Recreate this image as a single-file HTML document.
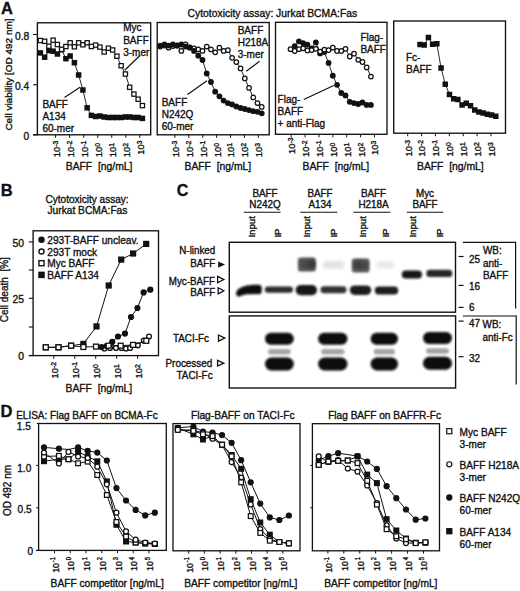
<!DOCTYPE html>
<html><head><meta charset="utf-8"><style>
html,body{margin:0;padding:0;background:#fff;}
body{width:520px;height:591px;overflow:hidden;}
svg{display:block;}
text{font-family:"Liberation Sans",sans-serif;fill:#111;stroke:#111;stroke-width:0.34px;}
</style></head><body>
<svg width="520" height="591" viewBox="0 0 520 591">
<defs><filter id="b5" x="-30%" y="-60%" width="160%" height="220%"><feGaussianBlur stdDeviation="0.5"/></filter><filter id="b6" x="-30%" y="-60%" width="160%" height="220%"><feGaussianBlur stdDeviation="0.6"/></filter><filter id="b7" x="-30%" y="-60%" width="160%" height="220%"><feGaussianBlur stdDeviation="0.7"/></filter><filter id="b8" x="-30%" y="-60%" width="160%" height="220%"><feGaussianBlur stdDeviation="0.8"/></filter><filter id="b9" x="-30%" y="-60%" width="160%" height="220%"><feGaussianBlur stdDeviation="0.9"/></filter><filter id="b10" x="-30%" y="-60%" width="160%" height="220%"><feGaussianBlur stdDeviation="1.0"/></filter><filter id="b11" x="-30%" y="-60%" width="160%" height="220%"><feGaussianBlur stdDeviation="1.1"/></filter><filter id="b12" x="-30%" y="-60%" width="160%" height="220%"><feGaussianBlur stdDeviation="1.2"/></filter><filter id="b13" x="-30%" y="-60%" width="160%" height="220%"><feGaussianBlur stdDeviation="1.3"/></filter><filter id="b14" x="-30%" y="-60%" width="160%" height="220%"><feGaussianBlur stdDeviation="1.4"/></filter><filter id="b15" x="-30%" y="-60%" width="160%" height="220%"><feGaussianBlur stdDeviation="1.5"/></filter><filter id="b16" x="-30%" y="-60%" width="160%" height="220%"><feGaussianBlur stdDeviation="1.6"/></filter><filter id="b17" x="-30%" y="-60%" width="160%" height="220%"><feGaussianBlur stdDeviation="1.7"/></filter><filter id="b18" x="-30%" y="-60%" width="160%" height="220%"><feGaussianBlur stdDeviation="1.8"/></filter><filter id="b19" x="-30%" y="-60%" width="160%" height="220%"><feGaussianBlur stdDeviation="1.9"/></filter><filter id="b20" x="-30%" y="-60%" width="160%" height="220%"><feGaussianBlur stdDeviation="2.0"/></filter></defs>
<rect width="520" height="591" fill="#fff"/>
<text transform="translate(1.00,13.90) scale(1,1.03)" font-size="16.5" text-anchor="start" font-weight="bold" >A</text>
<text transform="translate(187.60,16.60) scale(1,1.0)" font-size="10.35" text-anchor="start" font-weight="normal" >Cytotoxicity assay: Jurkat BCMA:Fas</text>
<rect x="37.40" y="22.80" width="113.30" height="112.00" fill="none" stroke="#111" stroke-width="1.35"/>
<rect x="157.20" y="22.50" width="112.00" height="112.30" fill="none" stroke="#111" stroke-width="1.35"/>
<rect x="275.50" y="22.30" width="111.50" height="112.00" fill="none" stroke="#111" stroke-width="1.35"/>
<rect x="393.70" y="21.00" width="111.80" height="112.20" fill="none" stroke="#111" stroke-width="1.35"/>
<line x1="33.10" y1="134.80" x2="37.40" y2="134.80" stroke="#111" stroke-width="1.35"/>
<line x1="33.10" y1="34.50" x2="37.40" y2="34.50" stroke="#111" stroke-width="1.1"/>
<text transform="translate(29.30,39.50) scale(1,1.0)" font-size="10.3" text-anchor="end" font-weight="normal" >0.8</text>
<line x1="33.10" y1="84.70" x2="37.40" y2="84.70" stroke="#111" stroke-width="1.1"/>
<text transform="translate(29.30,89.70) scale(1,1.0)" font-size="10.3" text-anchor="end" font-weight="normal" >0.4</text>
<line x1="33.10" y1="134.80" x2="37.40" y2="134.80" stroke="#111" stroke-width="1.1"/>
<text transform="translate(29.30,139.80) scale(1,1.0)" font-size="10.3" text-anchor="end" font-weight="normal" >0</text>
<text transform="translate(11.90,130.60) rotate(-90) scale(1.052,1)" font-size="9.5" text-anchor="start">Cell viability [OD 492 nm]</text>
<line x1="55.60" y1="134.80" x2="55.60" y2="137.80" stroke="#111" stroke-width="1.0"/>
<text transform="translate(59.50,157.30) rotate(-90) scale(1.02,1)" font-size="9.2">10<tspan font-size="6.7" dy="-2.0">-3</tspan></text>
<line x1="69.64" y1="134.80" x2="69.64" y2="137.80" stroke="#111" stroke-width="1.0"/>
<text transform="translate(73.54,157.30) rotate(-90) scale(1.02,1)" font-size="9.2">10<tspan font-size="6.7" dy="-2.0">-2</tspan></text>
<line x1="83.68" y1="134.80" x2="83.68" y2="137.80" stroke="#111" stroke-width="1.0"/>
<text transform="translate(87.58,157.30) rotate(-90) scale(1.02,1)" font-size="9.2">10<tspan font-size="6.7" dy="-2.0">-1</tspan></text>
<line x1="97.72" y1="134.80" x2="97.72" y2="137.80" stroke="#111" stroke-width="1.0"/>
<text transform="translate(101.62,157.30) rotate(-90) scale(1.02,1)" font-size="9.2">10<tspan font-size="6.7" dy="-2.0">0</tspan></text>
<line x1="111.76" y1="134.80" x2="111.76" y2="137.80" stroke="#111" stroke-width="1.0"/>
<text transform="translate(115.66,157.30) rotate(-90) scale(1.02,1)" font-size="9.2">10<tspan font-size="6.7" dy="-2.0">1</tspan></text>
<line x1="125.80" y1="134.80" x2="125.80" y2="137.80" stroke="#111" stroke-width="1.0"/>
<text transform="translate(129.70,157.30) rotate(-90) scale(1.02,1)" font-size="9.2">10<tspan font-size="6.7" dy="-2.0">2</tspan></text>
<line x1="139.84" y1="134.80" x2="139.84" y2="137.80" stroke="#111" stroke-width="1.0"/>
<text transform="translate(143.74,154.80) rotate(-90) scale(1.02,1)" font-size="9.2">10<tspan font-size="6.7" dy="-2.0">3</tspan></text>
<line x1="174.90" y1="134.80" x2="174.90" y2="137.80" stroke="#111" stroke-width="1.0"/>
<text transform="translate(178.80,157.30) rotate(-90) scale(1.02,1)" font-size="9.2">10<tspan font-size="6.7" dy="-2.0">-3</tspan></text>
<line x1="188.80" y1="134.80" x2="188.80" y2="137.80" stroke="#111" stroke-width="1.0"/>
<text transform="translate(192.70,157.30) rotate(-90) scale(1.02,1)" font-size="9.2">10<tspan font-size="6.7" dy="-2.0">-2</tspan></text>
<line x1="202.70" y1="134.80" x2="202.70" y2="137.80" stroke="#111" stroke-width="1.0"/>
<text transform="translate(206.60,157.30) rotate(-90) scale(1.02,1)" font-size="9.2">10<tspan font-size="6.7" dy="-2.0">-1</tspan></text>
<line x1="216.60" y1="134.80" x2="216.60" y2="137.80" stroke="#111" stroke-width="1.0"/>
<text transform="translate(220.50,157.30) rotate(-90) scale(1.02,1)" font-size="9.2">10<tspan font-size="6.7" dy="-2.0">0</tspan></text>
<line x1="230.50" y1="134.80" x2="230.50" y2="137.80" stroke="#111" stroke-width="1.0"/>
<text transform="translate(234.40,157.30) rotate(-90) scale(1.02,1)" font-size="9.2">10<tspan font-size="6.7" dy="-2.0">1</tspan></text>
<line x1="244.40" y1="134.80" x2="244.40" y2="137.80" stroke="#111" stroke-width="1.0"/>
<text transform="translate(248.30,157.30) rotate(-90) scale(1.02,1)" font-size="9.2">10<tspan font-size="6.7" dy="-2.0">2</tspan></text>
<line x1="258.30" y1="134.80" x2="258.30" y2="137.80" stroke="#111" stroke-width="1.0"/>
<text transform="translate(262.20,157.30) rotate(-90) scale(1.02,1)" font-size="9.2">10<tspan font-size="6.7" dy="-2.0">3</tspan></text>
<line x1="291.20" y1="134.30" x2="291.20" y2="137.30" stroke="#111" stroke-width="1.0"/>
<text transform="translate(295.10,154.05) rotate(-90) scale(1.02,1)" font-size="9.2">10<tspan font-size="6.7" dy="-2.0">-3</tspan></text>
<line x1="305.08" y1="134.30" x2="305.08" y2="137.30" stroke="#111" stroke-width="1.0"/>
<text transform="translate(308.98,157.05) rotate(-90) scale(1.02,1)" font-size="9.2">10<tspan font-size="6.7" dy="-2.0">-2</tspan></text>
<line x1="318.96" y1="134.30" x2="318.96" y2="137.30" stroke="#111" stroke-width="1.0"/>
<text transform="translate(322.86,157.05) rotate(-90) scale(1.02,1)" font-size="9.2">10<tspan font-size="6.7" dy="-2.0">-1</tspan></text>
<line x1="332.84" y1="134.30" x2="332.84" y2="137.30" stroke="#111" stroke-width="1.0"/>
<text transform="translate(336.74,157.05) rotate(-90) scale(1.02,1)" font-size="9.2">10<tspan font-size="6.7" dy="-2.0">0</tspan></text>
<line x1="346.72" y1="134.30" x2="346.72" y2="137.30" stroke="#111" stroke-width="1.0"/>
<text transform="translate(350.62,157.05) rotate(-90) scale(1.02,1)" font-size="9.2">10<tspan font-size="6.7" dy="-2.0">1</tspan></text>
<line x1="360.60" y1="134.30" x2="360.60" y2="137.30" stroke="#111" stroke-width="1.0"/>
<text transform="translate(364.50,157.05) rotate(-90) scale(1.02,1)" font-size="9.2">10<tspan font-size="6.7" dy="-2.0">2</tspan></text>
<line x1="374.48" y1="134.30" x2="374.48" y2="137.30" stroke="#111" stroke-width="1.0"/>
<text transform="translate(378.38,155.05) rotate(-90) scale(1.02,1)" font-size="9.2">10<tspan font-size="6.7" dy="-2.0">3</tspan></text>
<line x1="407.70" y1="133.20" x2="407.70" y2="136.20" stroke="#111" stroke-width="1.0"/>
<text transform="translate(411.60,156.50) rotate(-90) scale(1.02,1)" font-size="9.2">10<tspan font-size="6.7" dy="-2.0">-3</tspan></text>
<line x1="421.58" y1="133.20" x2="421.58" y2="136.20" stroke="#111" stroke-width="1.0"/>
<text transform="translate(425.48,156.50) rotate(-90) scale(1.02,1)" font-size="9.2">10<tspan font-size="6.7" dy="-2.0">-2</tspan></text>
<line x1="435.46" y1="133.20" x2="435.46" y2="136.20" stroke="#111" stroke-width="1.0"/>
<text transform="translate(439.36,156.50) rotate(-90) scale(1.02,1)" font-size="9.2">10<tspan font-size="6.7" dy="-2.0">-1</tspan></text>
<line x1="449.34" y1="133.20" x2="449.34" y2="136.20" stroke="#111" stroke-width="1.0"/>
<text transform="translate(453.24,156.50) rotate(-90) scale(1.02,1)" font-size="9.2">10<tspan font-size="6.7" dy="-2.0">0</tspan></text>
<line x1="463.22" y1="133.20" x2="463.22" y2="136.20" stroke="#111" stroke-width="1.0"/>
<text transform="translate(467.12,156.50) rotate(-90) scale(1.02,1)" font-size="9.2">10<tspan font-size="6.7" dy="-2.0">1</tspan></text>
<line x1="477.10" y1="133.20" x2="477.10" y2="136.20" stroke="#111" stroke-width="1.0"/>
<text transform="translate(481.00,156.50) rotate(-90) scale(1.02,1)" font-size="9.2">10<tspan font-size="6.7" dy="-2.0">2</tspan></text>
<line x1="490.98" y1="133.20" x2="490.98" y2="136.20" stroke="#111" stroke-width="1.0"/>
<text transform="translate(494.88,156.50) rotate(-90) scale(1.02,1)" font-size="9.2">10<tspan font-size="6.7" dy="-2.0">3</tspan></text>
<text transform="translate(65.75,170.20) scale(1,1.04)" font-size="10.35" text-anchor="start" font-weight="normal" >BAFF&#160;&#160;[ng/mL]</text>
<text transform="translate(184.50,170.20) scale(1,1.04)" font-size="10.35" text-anchor="start" font-weight="normal" >BAFF&#160;&#160;[ng/mL]</text>
<text transform="translate(302.50,170.20) scale(1,1.04)" font-size="10.35" text-anchor="start" font-weight="normal" >BAFF&#160;&#160;[ng/mL]</text>
<text transform="translate(417.00,170.20) scale(1,1.04)" font-size="10.35" text-anchor="start" font-weight="normal" >BAFF&#160;&#160;[ng/mL]</text>
<polyline points="40.40,52.90 44.65,57.20 48.90,50.60 53.15,51.20 57.40,54.00 61.65,49.60 65.90,58.70 70.15,56.00 74.40,62.70 78.65,75.00 82.90,90.00 87.15,107.80 91.40,115.40 95.65,116.50 99.90,116.00 104.15,117.00 108.40,117.50 112.65,117.50 116.90,117.50 121.15,117.50 125.40,117.00 129.65,117.00 133.90,117.50 138.15,117.50 142.40,118.40" fill="none" stroke="#111" stroke-width="0.9"/>
<rect x="37.65" y="50.15" width="5.50" height="5.50" fill="#111"/>
<rect x="41.90" y="54.45" width="5.50" height="5.50" fill="#111"/>
<rect x="46.15" y="47.85" width="5.50" height="5.50" fill="#111"/>
<rect x="50.40" y="48.45" width="5.50" height="5.50" fill="#111"/>
<rect x="54.65" y="51.25" width="5.50" height="5.50" fill="#111"/>
<rect x="58.90" y="46.85" width="5.50" height="5.50" fill="#111"/>
<rect x="63.15" y="55.95" width="5.50" height="5.50" fill="#111"/>
<rect x="67.40" y="53.25" width="5.50" height="5.50" fill="#111"/>
<rect x="71.65" y="59.95" width="5.50" height="5.50" fill="#111"/>
<rect x="75.90" y="72.25" width="5.50" height="5.50" fill="#111"/>
<rect x="80.15" y="87.25" width="5.50" height="5.50" fill="#111"/>
<rect x="84.40" y="105.05" width="5.50" height="5.50" fill="#111"/>
<rect x="88.65" y="112.65" width="5.50" height="5.50" fill="#111"/>
<rect x="92.90" y="113.75" width="5.50" height="5.50" fill="#111"/>
<rect x="97.15" y="113.25" width="5.50" height="5.50" fill="#111"/>
<rect x="101.40" y="114.25" width="5.50" height="5.50" fill="#111"/>
<rect x="105.65" y="114.75" width="5.50" height="5.50" fill="#111"/>
<rect x="109.90" y="114.75" width="5.50" height="5.50" fill="#111"/>
<rect x="114.15" y="114.75" width="5.50" height="5.50" fill="#111"/>
<rect x="118.40" y="114.75" width="5.50" height="5.50" fill="#111"/>
<rect x="122.65" y="114.25" width="5.50" height="5.50" fill="#111"/>
<rect x="126.90" y="114.25" width="5.50" height="5.50" fill="#111"/>
<rect x="131.15" y="114.75" width="5.50" height="5.50" fill="#111"/>
<rect x="135.40" y="114.75" width="5.50" height="5.50" fill="#111"/>
<rect x="139.65" y="115.65" width="5.50" height="5.50" fill="#111"/>
<polyline points="40.40,40.50 44.65,41.30 48.90,46.20 53.15,40.20 57.40,44.50 61.65,49.40 65.90,46.50 70.15,42.80 74.40,46.80 78.65,42.80 82.90,44.80 87.15,42.80 91.40,46.50 95.65,45.10 99.90,47.10 104.15,52.00 108.40,48.20 112.65,50.00 116.90,56.20 121.15,65.70 125.40,74.00 129.65,87.30 133.90,94.10 138.15,99.20 142.40,105.60" fill="none" stroke="#111" stroke-width="0.9"/>
<rect x="38.27" y="38.38" width="4.25" height="4.25" fill="#fff" stroke="#111" stroke-width="1.25"/>
<rect x="42.52" y="39.17" width="4.25" height="4.25" fill="#fff" stroke="#111" stroke-width="1.25"/>
<rect x="46.77" y="44.08" width="4.25" height="4.25" fill="#fff" stroke="#111" stroke-width="1.25"/>
<rect x="51.02" y="38.08" width="4.25" height="4.25" fill="#fff" stroke="#111" stroke-width="1.25"/>
<rect x="55.27" y="42.38" width="4.25" height="4.25" fill="#fff" stroke="#111" stroke-width="1.25"/>
<rect x="59.52" y="47.27" width="4.25" height="4.25" fill="#fff" stroke="#111" stroke-width="1.25"/>
<rect x="63.78" y="44.38" width="4.25" height="4.25" fill="#fff" stroke="#111" stroke-width="1.25"/>
<rect x="68.03" y="40.67" width="4.25" height="4.25" fill="#fff" stroke="#111" stroke-width="1.25"/>
<rect x="72.28" y="44.67" width="4.25" height="4.25" fill="#fff" stroke="#111" stroke-width="1.25"/>
<rect x="76.53" y="40.67" width="4.25" height="4.25" fill="#fff" stroke="#111" stroke-width="1.25"/>
<rect x="80.78" y="42.67" width="4.25" height="4.25" fill="#fff" stroke="#111" stroke-width="1.25"/>
<rect x="85.03" y="40.67" width="4.25" height="4.25" fill="#fff" stroke="#111" stroke-width="1.25"/>
<rect x="89.28" y="44.38" width="4.25" height="4.25" fill="#fff" stroke="#111" stroke-width="1.25"/>
<rect x="93.53" y="42.98" width="4.25" height="4.25" fill="#fff" stroke="#111" stroke-width="1.25"/>
<rect x="97.78" y="44.98" width="4.25" height="4.25" fill="#fff" stroke="#111" stroke-width="1.25"/>
<rect x="102.03" y="49.88" width="4.25" height="4.25" fill="#fff" stroke="#111" stroke-width="1.25"/>
<rect x="106.28" y="46.08" width="4.25" height="4.25" fill="#fff" stroke="#111" stroke-width="1.25"/>
<rect x="110.53" y="47.88" width="4.25" height="4.25" fill="#fff" stroke="#111" stroke-width="1.25"/>
<rect x="114.78" y="54.08" width="4.25" height="4.25" fill="#fff" stroke="#111" stroke-width="1.25"/>
<rect x="119.03" y="63.58" width="4.25" height="4.25" fill="#fff" stroke="#111" stroke-width="1.25"/>
<rect x="123.28" y="71.88" width="4.25" height="4.25" fill="#fff" stroke="#111" stroke-width="1.25"/>
<rect x="127.53" y="85.17" width="4.25" height="4.25" fill="#fff" stroke="#111" stroke-width="1.25"/>
<rect x="131.78" y="91.97" width="4.25" height="4.25" fill="#fff" stroke="#111" stroke-width="1.25"/>
<rect x="136.03" y="97.08" width="4.25" height="4.25" fill="#fff" stroke="#111" stroke-width="1.25"/>
<rect x="140.28" y="103.47" width="4.25" height="4.25" fill="#fff" stroke="#111" stroke-width="1.25"/>
<text transform="translate(123.20,31.30) scale(1,1.05)" font-size="10.0" text-anchor="start" font-weight="normal" >Myc</text>
<text transform="translate(123.20,43.50) scale(1,1.05)" font-size="10.0" text-anchor="start" font-weight="normal" >BAFF</text>
<text transform="translate(123.20,55.50) scale(1,1.05)" font-size="10.0" text-anchor="start" font-weight="normal" >3-mer</text>
<text transform="translate(42.40,108.10) scale(1,1.05)" font-size="10.0" text-anchor="start" font-weight="normal" >BAFF</text>
<text transform="translate(42.40,120.40) scale(1,1.05)" font-size="10.0" text-anchor="start" font-weight="normal" >A134</text>
<text transform="translate(42.40,132.30) scale(1,1.05)" font-size="10.0" text-anchor="start" font-weight="normal" >60-mer</text>
<line x1="140.20" y1="55.30" x2="124.70" y2="70.20" stroke="#111" stroke-width="1.2"/>
<line x1="64.50" y1="97.40" x2="80.00" y2="87.20" stroke="#111" stroke-width="1.2"/>
<polyline points="160.20,46.60 164.43,45.50 168.66,47.70 172.89,46.00 177.12,45.50 181.35,50.90 185.58,44.50 189.81,47.30 194.04,48.50 198.27,49.40 202.50,50.90 206.73,46.60 210.96,49.40 215.19,52.30 219.42,47.70 223.65,50.90 227.88,50.20 232.11,57.80 236.34,62.10 240.57,68.40 244.80,78.40 249.03,87.90 253.26,97.40 257.49,103.10 261.72,106.90" fill="none" stroke="#111" stroke-width="0.9"/>
<circle cx="160.20" cy="46.60" r="2.27" fill="#fff" stroke="#111" stroke-width="1.25"/>
<circle cx="164.43" cy="45.50" r="2.27" fill="#fff" stroke="#111" stroke-width="1.25"/>
<circle cx="168.66" cy="47.70" r="2.27" fill="#fff" stroke="#111" stroke-width="1.25"/>
<circle cx="172.89" cy="46.00" r="2.27" fill="#fff" stroke="#111" stroke-width="1.25"/>
<circle cx="177.12" cy="45.50" r="2.27" fill="#fff" stroke="#111" stroke-width="1.25"/>
<circle cx="181.35" cy="50.90" r="2.27" fill="#fff" stroke="#111" stroke-width="1.25"/>
<circle cx="185.58" cy="44.50" r="2.27" fill="#fff" stroke="#111" stroke-width="1.25"/>
<circle cx="189.81" cy="47.30" r="2.27" fill="#fff" stroke="#111" stroke-width="1.25"/>
<circle cx="194.04" cy="48.50" r="2.27" fill="#fff" stroke="#111" stroke-width="1.25"/>
<circle cx="198.27" cy="49.40" r="2.27" fill="#fff" stroke="#111" stroke-width="1.25"/>
<circle cx="202.50" cy="50.90" r="2.27" fill="#fff" stroke="#111" stroke-width="1.25"/>
<circle cx="206.73" cy="46.60" r="2.27" fill="#fff" stroke="#111" stroke-width="1.25"/>
<circle cx="210.96" cy="49.40" r="2.27" fill="#fff" stroke="#111" stroke-width="1.25"/>
<circle cx="215.19" cy="52.30" r="2.27" fill="#fff" stroke="#111" stroke-width="1.25"/>
<circle cx="219.42" cy="47.70" r="2.27" fill="#fff" stroke="#111" stroke-width="1.25"/>
<circle cx="223.65" cy="50.90" r="2.27" fill="#fff" stroke="#111" stroke-width="1.25"/>
<circle cx="227.88" cy="50.20" r="2.27" fill="#fff" stroke="#111" stroke-width="1.25"/>
<circle cx="232.11" cy="57.80" r="2.27" fill="#fff" stroke="#111" stroke-width="1.25"/>
<circle cx="236.34" cy="62.10" r="2.27" fill="#fff" stroke="#111" stroke-width="1.25"/>
<circle cx="240.57" cy="68.40" r="2.27" fill="#fff" stroke="#111" stroke-width="1.25"/>
<circle cx="244.80" cy="78.40" r="2.27" fill="#fff" stroke="#111" stroke-width="1.25"/>
<circle cx="249.03" cy="87.90" r="2.27" fill="#fff" stroke="#111" stroke-width="1.25"/>
<circle cx="253.26" cy="97.40" r="2.27" fill="#fff" stroke="#111" stroke-width="1.25"/>
<circle cx="257.49" cy="103.10" r="2.27" fill="#fff" stroke="#111" stroke-width="1.25"/>
<circle cx="261.72" cy="106.90" r="2.27" fill="#fff" stroke="#111" stroke-width="1.25"/>
<polyline points="160.20,45.60 164.43,44.50 168.66,45.60 172.89,44.50 177.12,45.60 181.35,44.50 185.58,46.60 189.81,47.70 194.04,50.90 198.27,55.70 202.50,60.00 206.73,73.50 210.96,82.00 215.19,91.70 219.42,96.30 223.65,100.60 227.88,103.10 232.11,104.40 236.34,106.50 240.57,108.00 244.80,109.00 249.03,110.10 253.26,111.20 257.49,111.80 261.72,113.30" fill="none" stroke="#111" stroke-width="0.9"/>
<circle cx="160.20" cy="45.60" r="2.90" fill="#111"/>
<circle cx="164.43" cy="44.50" r="2.90" fill="#111"/>
<circle cx="168.66" cy="45.60" r="2.90" fill="#111"/>
<circle cx="172.89" cy="44.50" r="2.90" fill="#111"/>
<circle cx="177.12" cy="45.60" r="2.90" fill="#111"/>
<circle cx="181.35" cy="44.50" r="2.90" fill="#111"/>
<circle cx="185.58" cy="46.60" r="2.90" fill="#111"/>
<circle cx="189.81" cy="47.70" r="2.90" fill="#111"/>
<circle cx="194.04" cy="50.90" r="2.90" fill="#111"/>
<circle cx="198.27" cy="55.70" r="2.90" fill="#111"/>
<circle cx="202.50" cy="60.00" r="2.90" fill="#111"/>
<circle cx="206.73" cy="73.50" r="2.90" fill="#111"/>
<circle cx="210.96" cy="82.00" r="2.90" fill="#111"/>
<circle cx="215.19" cy="91.70" r="2.90" fill="#111"/>
<circle cx="219.42" cy="96.30" r="2.90" fill="#111"/>
<circle cx="223.65" cy="100.60" r="2.90" fill="#111"/>
<circle cx="227.88" cy="103.10" r="2.90" fill="#111"/>
<circle cx="232.11" cy="104.40" r="2.90" fill="#111"/>
<circle cx="236.34" cy="106.50" r="2.90" fill="#111"/>
<circle cx="240.57" cy="108.00" r="2.90" fill="#111"/>
<circle cx="244.80" cy="109.00" r="2.90" fill="#111"/>
<circle cx="249.03" cy="110.10" r="2.90" fill="#111"/>
<circle cx="253.26" cy="111.20" r="2.90" fill="#111"/>
<circle cx="257.49" cy="111.80" r="2.90" fill="#111"/>
<circle cx="261.72" cy="113.30" r="2.90" fill="#111"/>
<text transform="translate(237.70,33.90) scale(1,1.05)" font-size="10.0" text-anchor="start" font-weight="normal" >BAFF</text>
<text transform="translate(237.70,45.60) scale(1,1.05)" font-size="10.0" text-anchor="start" font-weight="normal" >H218A</text>
<text transform="translate(237.70,57.70) scale(1,1.05)" font-size="10.0" text-anchor="start" font-weight="normal" >3-mer</text>
<text transform="translate(161.70,105.60) scale(1,1.05)" font-size="10.0" text-anchor="start" font-weight="normal" >BAFF</text>
<text transform="translate(161.70,117.70) scale(1,1.05)" font-size="10.0" text-anchor="start" font-weight="normal" >N242Q</text>
<text transform="translate(161.70,129.60) scale(1,1.05)" font-size="10.0" text-anchor="start" font-weight="normal" >60-mer</text>
<line x1="259.50" y1="61.25" x2="246.25" y2="71.25" stroke="#111" stroke-width="1.2"/>
<line x1="187.50" y1="94.50" x2="207.00" y2="80.75" stroke="#111" stroke-width="1.2"/>
<polyline points="294.70,46.10 298.93,41.30 303.17,43.20 307.40,44.60 311.63,48.30 315.87,42.40 320.10,53.40 324.33,52.00 328.56,62.90 332.80,75.70 337.03,84.80 341.26,93.00 345.50,95.40 349.73,101.80 353.96,103.10 358.19,104.00 362.43,102.50 366.66,104.90 370.89,104.90" fill="none" stroke="#111" stroke-width="0.9"/>
<circle cx="294.70" cy="46.10" r="2.90" fill="#111"/>
<circle cx="298.93" cy="41.30" r="2.90" fill="#111"/>
<circle cx="303.17" cy="43.20" r="2.90" fill="#111"/>
<circle cx="307.40" cy="44.60" r="2.90" fill="#111"/>
<circle cx="311.63" cy="48.30" r="2.90" fill="#111"/>
<circle cx="315.87" cy="42.40" r="2.90" fill="#111"/>
<circle cx="320.10" cy="53.40" r="2.90" fill="#111"/>
<circle cx="324.33" cy="52.00" r="2.90" fill="#111"/>
<circle cx="328.56" cy="62.90" r="2.90" fill="#111"/>
<circle cx="332.80" cy="75.70" r="2.90" fill="#111"/>
<circle cx="337.03" cy="84.80" r="2.90" fill="#111"/>
<circle cx="341.26" cy="93.00" r="2.90" fill="#111"/>
<circle cx="345.50" cy="95.40" r="2.90" fill="#111"/>
<circle cx="349.73" cy="101.80" r="2.90" fill="#111"/>
<circle cx="353.96" cy="103.10" r="2.90" fill="#111"/>
<circle cx="358.19" cy="104.00" r="2.90" fill="#111"/>
<circle cx="362.43" cy="102.50" r="2.90" fill="#111"/>
<circle cx="366.66" cy="104.90" r="2.90" fill="#111"/>
<circle cx="370.89" cy="104.90" r="2.90" fill="#111"/>
<polyline points="290.50,49.20 294.73,51.00 298.97,49.20 303.20,48.30 307.43,50.50 311.67,50.10 315.90,48.80 320.13,51.60 324.36,49.70 328.60,50.10 332.83,47.70 337.06,51.00 341.30,51.00 345.53,48.80 349.76,56.50 354.00,53.70 358.23,59.80 362.46,62.00 366.69,67.40 370.93,76.60" fill="none" stroke="#111" stroke-width="0.9"/>
<circle cx="290.50" cy="49.20" r="2.27" fill="#fff" stroke="#111" stroke-width="1.25"/>
<circle cx="294.73" cy="51.00" r="2.27" fill="#fff" stroke="#111" stroke-width="1.25"/>
<circle cx="298.97" cy="49.20" r="2.27" fill="#fff" stroke="#111" stroke-width="1.25"/>
<circle cx="303.20" cy="48.30" r="2.27" fill="#fff" stroke="#111" stroke-width="1.25"/>
<circle cx="307.43" cy="50.50" r="2.27" fill="#fff" stroke="#111" stroke-width="1.25"/>
<circle cx="311.67" cy="50.10" r="2.27" fill="#fff" stroke="#111" stroke-width="1.25"/>
<circle cx="315.90" cy="48.80" r="2.27" fill="#fff" stroke="#111" stroke-width="1.25"/>
<circle cx="320.13" cy="51.60" r="2.27" fill="#fff" stroke="#111" stroke-width="1.25"/>
<circle cx="324.36" cy="49.70" r="2.27" fill="#fff" stroke="#111" stroke-width="1.25"/>
<circle cx="328.60" cy="50.10" r="2.27" fill="#fff" stroke="#111" stroke-width="1.25"/>
<circle cx="332.83" cy="47.70" r="2.27" fill="#fff" stroke="#111" stroke-width="1.25"/>
<circle cx="337.06" cy="51.00" r="2.27" fill="#fff" stroke="#111" stroke-width="1.25"/>
<circle cx="341.30" cy="51.00" r="2.27" fill="#fff" stroke="#111" stroke-width="1.25"/>
<circle cx="345.53" cy="48.80" r="2.27" fill="#fff" stroke="#111" stroke-width="1.25"/>
<circle cx="349.76" cy="56.50" r="2.27" fill="#fff" stroke="#111" stroke-width="1.25"/>
<circle cx="354.00" cy="53.70" r="2.27" fill="#fff" stroke="#111" stroke-width="1.25"/>
<circle cx="358.23" cy="59.80" r="2.27" fill="#fff" stroke="#111" stroke-width="1.25"/>
<circle cx="362.46" cy="62.00" r="2.27" fill="#fff" stroke="#111" stroke-width="1.25"/>
<circle cx="366.69" cy="67.40" r="2.27" fill="#fff" stroke="#111" stroke-width="1.25"/>
<circle cx="370.93" cy="76.60" r="2.27" fill="#fff" stroke="#111" stroke-width="1.25"/>
<text transform="translate(360.40,41.00) scale(1,1.05)" font-size="10.0" text-anchor="start" font-weight="normal" >Flag-</text>
<text transform="translate(360.40,53.30) scale(1,1.05)" font-size="10.0" text-anchor="start" font-weight="normal" >BAFF</text>
<text transform="translate(277.60,102.60) scale(1,1.05)" font-size="10.0" text-anchor="start" font-weight="normal" >Flag-</text>
<text transform="translate(277.60,114.60) scale(1,1.05)" font-size="10.0" text-anchor="start" font-weight="normal" >BAFF</text>
<text transform="translate(277.60,126.60) scale(1,1.05)" font-size="10.0" text-anchor="start" font-weight="normal" >+ anti-Flag</text>
<line x1="303.75" y1="99.50" x2="333.75" y2="85.50" stroke="#111" stroke-width="1.2"/>
<polyline points="420.00,44.50 424.21,45.00 428.42,37.50 432.63,44.25 436.84,43.75 441.05,68.00 445.26,84.25 449.47,94.50 453.68,98.75 457.89,99.50 462.10,105.00 466.31,103.25 470.52,105.75 474.73,110.00 478.94,112.00 483.15,113.00 487.36,114.25 491.57,115.00 495.78,116.25" fill="none" stroke="#111" stroke-width="0.9"/>
<rect x="417.25" y="41.75" width="5.50" height="5.50" fill="#111"/>
<rect x="421.46" y="42.25" width="5.50" height="5.50" fill="#111"/>
<rect x="425.67" y="34.75" width="5.50" height="5.50" fill="#111"/>
<rect x="429.88" y="41.50" width="5.50" height="5.50" fill="#111"/>
<rect x="434.09" y="41.00" width="5.50" height="5.50" fill="#111"/>
<rect x="438.30" y="65.25" width="5.50" height="5.50" fill="#111"/>
<rect x="442.51" y="81.50" width="5.50" height="5.50" fill="#111"/>
<rect x="446.72" y="91.75" width="5.50" height="5.50" fill="#111"/>
<rect x="450.93" y="96.00" width="5.50" height="5.50" fill="#111"/>
<rect x="455.14" y="96.75" width="5.50" height="5.50" fill="#111"/>
<rect x="459.35" y="102.25" width="5.50" height="5.50" fill="#111"/>
<rect x="463.56" y="100.50" width="5.50" height="5.50" fill="#111"/>
<rect x="467.77" y="103.00" width="5.50" height="5.50" fill="#111"/>
<rect x="471.98" y="107.25" width="5.50" height="5.50" fill="#111"/>
<rect x="476.19" y="109.25" width="5.50" height="5.50" fill="#111"/>
<rect x="480.40" y="110.25" width="5.50" height="5.50" fill="#111"/>
<rect x="484.61" y="111.50" width="5.50" height="5.50" fill="#111"/>
<rect x="488.82" y="112.25" width="5.50" height="5.50" fill="#111"/>
<rect x="493.03" y="113.50" width="5.50" height="5.50" fill="#111"/>
<text transform="translate(406.00,61.30) scale(1,1.05)" font-size="10.0" text-anchor="start" font-weight="normal" >Fc-</text>
<text transform="translate(406.10,72.80) scale(1,1.05)" font-size="10.0" text-anchor="start" font-weight="normal" >BAFF</text>
<text transform="translate(0.80,196.20) scale(1,1.03)" font-size="16.5" text-anchor="start" font-weight="bold" >B</text>
<text transform="translate(45.50,202.50) scale(1,1.02)" font-size="10.05" text-anchor="start" font-weight="normal" >Cytotoxicity assay:</text>
<text transform="translate(47.50,214.30) scale(1,1.02)" font-size="10.2" text-anchor="start" font-weight="normal" >Jurkat BCMA:Fas</text>
<rect x="33.10" y="230.80" width="125.40" height="124.80" fill="none" stroke="#111" stroke-width="1.35"/>
<line x1="28.80" y1="241.90" x2="33.10" y2="241.90" stroke="#111" stroke-width="1.1"/>
<line x1="28.80" y1="270.00" x2="33.10" y2="270.00" stroke="#111" stroke-width="1.1"/>
<line x1="28.80" y1="298.30" x2="33.10" y2="298.30" stroke="#111" stroke-width="1.1"/>
<line x1="28.80" y1="327.00" x2="33.10" y2="327.00" stroke="#111" stroke-width="1.1"/>
<line x1="28.80" y1="355.60" x2="33.10" y2="355.60" stroke="#111" stroke-width="1.35"/>
<text transform="translate(24.00,246.50) scale(1,1.0)" font-size="10.4" text-anchor="end" font-weight="normal" >50</text>
<text transform="translate(24.00,302.90) scale(1,1.0)" font-size="10.4" text-anchor="end" font-weight="normal" >25</text>
<text transform="translate(24.00,360.20) scale(1,1.0)" font-size="10.4" text-anchor="end" font-weight="normal" >0</text>
<text transform="translate(8.40,322.20) rotate(-90) scale(1.0,1)" font-size="10.0" text-anchor="start">Cell death&#160;&#160;[%]</text>
<line x1="53.80" y1="355.60" x2="53.80" y2="358.80" stroke="#111" stroke-width="1.0"/>
<text transform="translate(58.20,378.50) rotate(-90) scale(1.02,1)" font-size="9.2">10<tspan font-size="6.7" dy="-2.0">-2</tspan></text>
<line x1="74.75" y1="355.60" x2="74.75" y2="358.80" stroke="#111" stroke-width="1.0"/>
<text transform="translate(79.15,378.50) rotate(-90) scale(1.02,1)" font-size="9.2">10<tspan font-size="6.7" dy="-2.0">-1</tspan></text>
<line x1="95.70" y1="355.60" x2="95.70" y2="358.80" stroke="#111" stroke-width="1.0"/>
<text transform="translate(100.10,378.50) rotate(-90) scale(1.02,1)" font-size="9.2">10<tspan font-size="6.7" dy="-2.0">0</tspan></text>
<line x1="116.65" y1="355.60" x2="116.65" y2="358.80" stroke="#111" stroke-width="1.0"/>
<text transform="translate(121.05,378.50) rotate(-90) scale(1.02,1)" font-size="9.2">10<tspan font-size="6.7" dy="-2.0">1</tspan></text>
<line x1="137.60" y1="355.60" x2="137.60" y2="358.80" stroke="#111" stroke-width="1.0"/>
<text transform="translate(142.00,378.50) rotate(-90) scale(1.02,1)" font-size="9.2">10<tspan font-size="6.7" dy="-2.0">2</tspan></text>
<text transform="translate(65.50,391.50) scale(1,1.04)" font-size="10.35" text-anchor="start" font-weight="normal" >BAFF&#160;&#160;[ng/mL]</text>
<circle cx="41.50" cy="239.80" r="3.25" fill="#111"/>
<text transform="translate(47.30,244.00) scale(1,1.04)" font-size="10.1" text-anchor="start" font-weight="normal" >293T-BAFF uncleav.</text>
<circle cx="41.50" cy="251.50" r="2.55" fill="#fff" stroke="#111" stroke-width="1.4"/>
<text transform="translate(47.30,255.70) scale(1,1.04)" font-size="10.1" text-anchor="start" font-weight="normal" >293T mock</text>
<rect x="38.95" y="260.65" width="5.10" height="5.10" fill="#fff" stroke="#111" stroke-width="1.4"/>
<text transform="translate(47.30,267.40) scale(1,1.04)" font-size="10.1" text-anchor="start" font-weight="normal" >Myc BAFF</text>
<rect x="38.25" y="271.65" width="6.50" height="6.50" fill="#111"/>
<text transform="translate(47.30,279.10) scale(1,1.04)" font-size="10.1" text-anchor="start" font-weight="normal" >BAFF A134</text>
<polyline points="104.50,348.50 110.00,348.00 116.00,348.00 121.50,348.00 126.00,348.50 130.10,348.00 137.80,345.30 143.80,340.60 149.00,336.50" fill="none" stroke="#111" stroke-width="1.0"/>
<circle cx="104.50" cy="348.50" r="2.45" fill="#fff" stroke="#111" stroke-width="1.3"/>
<circle cx="110.00" cy="348.00" r="2.45" fill="#fff" stroke="#111" stroke-width="1.3"/>
<circle cx="116.00" cy="348.00" r="2.45" fill="#fff" stroke="#111" stroke-width="1.3"/>
<circle cx="121.50" cy="348.00" r="2.45" fill="#fff" stroke="#111" stroke-width="1.3"/>
<circle cx="126.00" cy="348.50" r="2.45" fill="#fff" stroke="#111" stroke-width="1.3"/>
<circle cx="130.10" cy="348.00" r="2.45" fill="#fff" stroke="#111" stroke-width="1.3"/>
<circle cx="137.80" cy="345.30" r="2.45" fill="#fff" stroke="#111" stroke-width="1.3"/>
<circle cx="143.80" cy="340.60" r="2.45" fill="#fff" stroke="#111" stroke-width="1.3"/>
<circle cx="149.00" cy="336.50" r="2.45" fill="#fff" stroke="#111" stroke-width="1.3"/>
<polyline points="101.50,347.00 106.50,346.00 112.20,341.90 118.00,336.50 125.00,333.60 131.00,317.00 137.40,308.00 143.60,292.40 150.30,289.70" fill="none" stroke="#111" stroke-width="1.0"/>
<circle cx="101.50" cy="347.00" r="3.10" fill="#111"/>
<circle cx="106.50" cy="346.00" r="3.10" fill="#111"/>
<circle cx="112.20" cy="341.90" r="3.10" fill="#111"/>
<circle cx="118.00" cy="336.50" r="3.10" fill="#111"/>
<circle cx="125.00" cy="333.60" r="3.10" fill="#111"/>
<circle cx="131.00" cy="317.00" r="3.10" fill="#111"/>
<circle cx="137.40" cy="308.00" r="3.10" fill="#111"/>
<circle cx="143.60" cy="292.40" r="3.10" fill="#111"/>
<circle cx="150.30" cy="289.70" r="3.10" fill="#111"/>
<polyline points="45.80,347.30 58.50,347.30 71.10,345.70 83.40,343.90 96.50,326.40 108.70,285.50 121.20,259.60 133.10,253.50 146.20,243.90" fill="none" stroke="#111" stroke-width="1.0"/>
<rect x="42.70" y="344.20" width="6.20" height="6.20" fill="#111"/>
<rect x="55.40" y="344.20" width="6.20" height="6.20" fill="#111"/>
<rect x="68.00" y="342.60" width="6.20" height="6.20" fill="#111"/>
<rect x="80.30" y="340.80" width="6.20" height="6.20" fill="#111"/>
<rect x="93.40" y="323.30" width="6.20" height="6.20" fill="#111"/>
<rect x="105.60" y="282.40" width="6.20" height="6.20" fill="#111"/>
<rect x="118.10" y="256.50" width="6.20" height="6.20" fill="#111"/>
<rect x="130.00" y="250.40" width="6.20" height="6.20" fill="#111"/>
<rect x="143.10" y="240.80" width="6.20" height="6.20" fill="#111"/>
<polyline points="45.80,347.30 58.50,347.30 71.10,345.70 83.40,347.00 96.00,346.60 108.60,345.70 120.70,345.70 133.10,344.90 146.30,340.80" fill="none" stroke="#111" stroke-width="1.0"/>
<rect x="43.35" y="344.85" width="4.90" height="4.90" fill="#fff" stroke="#111" stroke-width="1.3"/>
<rect x="56.05" y="344.85" width="4.90" height="4.90" fill="#fff" stroke="#111" stroke-width="1.3"/>
<rect x="68.65" y="343.25" width="4.90" height="4.90" fill="#fff" stroke="#111" stroke-width="1.3"/>
<rect x="80.95" y="344.55" width="4.90" height="4.90" fill="#fff" stroke="#111" stroke-width="1.3"/>
<rect x="93.55" y="344.15" width="4.90" height="4.90" fill="#fff" stroke="#111" stroke-width="1.3"/>
<rect x="106.15" y="343.25" width="4.90" height="4.90" fill="#fff" stroke="#111" stroke-width="1.3"/>
<rect x="118.25" y="343.25" width="4.90" height="4.90" fill="#fff" stroke="#111" stroke-width="1.3"/>
<rect x="130.65" y="342.45" width="4.90" height="4.90" fill="#fff" stroke="#111" stroke-width="1.3"/>
<rect x="143.85" y="338.35" width="4.90" height="4.90" fill="#fff" stroke="#111" stroke-width="1.3"/>
<text transform="translate(176.80,196.20) scale(1,1.04)" font-size="16" text-anchor="start" font-weight="bold" >C</text>
<text transform="translate(265.00,196.50) scale(1,1.04)" font-size="9.9" text-anchor="middle" font-weight="normal" >BAFF</text>
<text transform="translate(265.00,207.60) scale(1,1.04)" font-size="9.9" text-anchor="middle" font-weight="normal" >N242Q</text>
<line x1="243.80" y1="212.20" x2="280.60" y2="212.20" stroke="#111" stroke-width="1.1"/>
<text transform="translate(320.00,196.50) scale(1,1.04)" font-size="9.9" text-anchor="middle" font-weight="normal" >BAFF</text>
<text transform="translate(320.00,207.60) scale(1,1.04)" font-size="9.9" text-anchor="middle" font-weight="normal" >A134</text>
<line x1="300.30" y1="212.20" x2="337.30" y2="212.20" stroke="#111" stroke-width="1.1"/>
<text transform="translate(373.50,196.50) scale(1,1.04)" font-size="9.9" text-anchor="middle" font-weight="normal" >BAFF</text>
<text transform="translate(373.50,207.60) scale(1,1.04)" font-size="9.9" text-anchor="middle" font-weight="normal" >H218A</text>
<line x1="353.40" y1="212.20" x2="390.30" y2="212.20" stroke="#111" stroke-width="1.1"/>
<text transform="translate(425.00,196.50) scale(1,1.04)" font-size="9.9" text-anchor="middle" font-weight="normal" >Myc</text>
<text transform="translate(425.00,207.60) scale(1,1.04)" font-size="9.9" text-anchor="middle" font-weight="normal" >BAFF</text>
<line x1="406.90" y1="212.20" x2="443.40" y2="212.20" stroke="#111" stroke-width="1.1"/>
<text transform="translate(255.20,237.60) rotate(-90) scale(1.04,1)" font-size="9.3" text-anchor="start">Input</text>
<text transform="translate(310.30,237.60) rotate(-90) scale(1.04,1)" font-size="9.3" text-anchor="start">Input</text>
<text transform="translate(366.40,237.60) rotate(-90) scale(1.04,1)" font-size="9.3" text-anchor="start">Input</text>
<text transform="translate(415.60,237.60) rotate(-90) scale(1.04,1)" font-size="9.3" text-anchor="start">Input</text>
<text transform="translate(280.60,237.60) rotate(-90) scale(1.04,1)" font-size="9.3" text-anchor="start">IP</text>
<text transform="translate(336.60,237.60) rotate(-90) scale(1.04,1)" font-size="9.3" text-anchor="start">IP</text>
<text transform="translate(389.40,237.60) rotate(-90) scale(1.04,1)" font-size="9.3" text-anchor="start">IP</text>
<text transform="translate(442.50,237.60) rotate(-90) scale(1.04,1)" font-size="9.3" text-anchor="start">IP</text>
<rect x="229.30" y="242.30" width="226.20" height="69.90" fill="none" stroke="#111" stroke-width="1.4"/>
<rect x="229.30" y="315.90" width="226.30" height="72.10" fill="none" stroke="#111" stroke-width="1.4"/>
<path d="M236.2,292.6 C236.6,289.6 240.5,287.2 246,285.8 C251,284.8 257,284.6 260.2,285.0 C262.2,285.6 262.4,293.4 260.4,294.0 C255,294.4 249,294.0 245.5,294.4 C242,294.9 240.5,296.6 238.2,296.4 C236.4,296.2 235.9,294.2 236.2,292.6 Z" fill="#0a0a0a" filter="url(#b10)"/>
<rect x="264.80" y="286.40" width="28.20" height="6.40" rx="3.20" fill="#2a2a2a" opacity="1.0" filter="url(#b9)"/>
<rect x="295.60" y="285.00" width="21.40" height="10.20" rx="5.10" fill="#141414" opacity="1.0" filter="url(#b10)"/>
<rect x="320.50" y="286.20" width="26.00" height="7.00" rx="3.50" fill="#333" opacity="1.0" filter="url(#b9)"/>
<rect x="349.80" y="285.40" width="21.40" height="9.60" rx="4.80" fill="#1e1e1e" opacity="1.0" filter="url(#b10)"/>
<rect x="374.80" y="286.60" width="23.40" height="7.90" rx="3.95" fill="#1e1e1e" opacity="1.0" filter="url(#b9)"/>
<rect x="401.80" y="270.40" width="20.20" height="8.20" rx="4.10" fill="#121212" opacity="1.0" filter="url(#b9)"/>
<rect x="426.30" y="269.80" width="26.10" height="7.20" rx="3.60" fill="#262626" opacity="1.0" filter="url(#b9)"/>
<rect x="297.90" y="257.60" width="17.80" height="14.00" rx="2.50" fill="#606060" opacity="1.0" filter="url(#b11)"/>
<rect x="300.00" y="259.80" width="14.60" height="9.40" rx="3.00" fill="#4a4a4a" opacity="1.0" filter="url(#b14)"/>
<rect x="308.00" y="260.00" width="7.00" height="8.00" rx="3.00" fill="#3a3a3a" opacity="1.0" filter="url(#b16)"/>
<rect x="351.80" y="258.40" width="17.60" height="14.00" rx="2.50" fill="#606060" opacity="1.0" filter="url(#b11)"/>
<rect x="353.80" y="260.60" width="14.60" height="9.40" rx="3.00" fill="#4a4a4a" opacity="1.0" filter="url(#b14)"/>
<rect x="355.00" y="261.00" width="7.00" height="7.50" rx="3.00" fill="#3e3e3e" opacity="1.0" filter="url(#b16)"/>
<rect x="323.00" y="260.80" width="21.00" height="8.00" rx="3.00" fill="#e4e4e4" opacity="1.0" filter="url(#b15)"/>
<rect x="376.20" y="261.20" width="18.40" height="7.30" rx="3.00" fill="#e9e9e9" opacity="1.0" filter="url(#b15)"/>
<rect x="265.00" y="332.70" width="28.80" height="12.00" rx="6.00" fill="#0a0a0a" opacity="1.0" filter="url(#b11)"/>
<rect x="268.00" y="348.80" width="22.80" height="6.00" rx="3.00" fill="#b4b4b4" opacity="1.0" filter="url(#b12)"/>
<rect x="269.00" y="350.80" width="20.80" height="2.00" rx="1.00" fill="#9a9a9a" opacity="1.0" filter="url(#b8)"/>
<rect x="265.00" y="357.60" width="28.80" height="12.90" rx="6.45" fill="#0a0a0a" opacity="1.0" filter="url(#b11)"/>
<rect x="318.10" y="332.70" width="29.40" height="12.00" rx="6.00" fill="#0a0a0a" opacity="1.0" filter="url(#b11)"/>
<rect x="321.10" y="348.80" width="23.40" height="6.00" rx="3.00" fill="#b4b4b4" opacity="1.0" filter="url(#b12)"/>
<rect x="322.10" y="350.80" width="21.40" height="2.00" rx="1.00" fill="#9a9a9a" opacity="1.0" filter="url(#b8)"/>
<rect x="318.10" y="357.60" width="29.40" height="12.90" rx="6.45" fill="#0a0a0a" opacity="1.0" filter="url(#b11)"/>
<rect x="370.60" y="332.70" width="27.40" height="12.00" rx="6.00" fill="#0a0a0a" opacity="1.0" filter="url(#b11)"/>
<rect x="373.60" y="348.80" width="21.40" height="6.00" rx="3.00" fill="#b4b4b4" opacity="1.0" filter="url(#b12)"/>
<rect x="374.60" y="350.80" width="19.40" height="2.00" rx="1.00" fill="#9a9a9a" opacity="1.0" filter="url(#b8)"/>
<rect x="370.60" y="357.60" width="27.40" height="12.90" rx="6.45" fill="#0a0a0a" opacity="1.0" filter="url(#b11)"/>
<rect x="423.00" y="331.90" width="29.00" height="12.00" rx="6.00" fill="#0a0a0a" opacity="1.0" filter="url(#b11)"/>
<rect x="426.00" y="348.00" width="23.00" height="6.00" rx="3.00" fill="#b4b4b4" opacity="1.0" filter="url(#b12)"/>
<rect x="427.00" y="350.00" width="21.00" height="2.00" rx="1.00" fill="#9a9a9a" opacity="1.0" filter="url(#b8)"/>
<rect x="423.00" y="356.80" width="29.00" height="12.90" rx="6.45" fill="#0a0a0a" opacity="1.0" filter="url(#b11)"/>
<text transform="translate(215.20,254.10) scale(1,1.04)" font-size="9.8" text-anchor="end" font-weight="normal" >N-linked</text>
<text transform="translate(215.20,266.50) scale(1,1.04)" font-size="9.8" text-anchor="end" font-weight="normal" >BAFF</text>
<polygon points="218.20,261.40 225.00,264.60 218.20,267.80" fill="#111"/>
<text transform="translate(215.00,285.10) scale(1,1.04)" font-size="9.8" text-anchor="end" font-weight="normal" >Myc-BAFF</text>
<polygon points="217.60,276.40 223.80,279.60 217.60,282.80" fill="#fff" stroke="#111" stroke-width="1.3" stroke-linejoin="miter"/>
<text transform="translate(215.20,296.30) scale(1,1.04)" font-size="9.8" text-anchor="end" font-weight="normal" >BAFF</text>
<polygon points="218.20,287.80 223.80,290.80 218.20,293.80" fill="#fff" stroke="#111" stroke-width="1.3" stroke-linejoin="miter"/>
<text transform="translate(209.00,341.50) scale(1,1.04)" font-size="9.9" text-anchor="end" font-weight="normal" >TACI-Fc</text>
<polygon points="218.50,335.00 224.80,338.10 218.50,341.20" fill="#fff" stroke="#111" stroke-width="1.3" stroke-linejoin="miter"/>
<text transform="translate(212.20,367.10) scale(1,1.04)" font-size="9.9" text-anchor="end" font-weight="normal" >Processed</text>
<polygon points="217.60,360.30 223.80,363.20 217.60,366.10" fill="#fff" stroke="#111" stroke-width="1.3" stroke-linejoin="miter"/>
<text transform="translate(212.60,379.20) scale(1,1.04)" font-size="9.9" text-anchor="end" font-weight="normal" >TACI-Fc</text>
<line x1="462.80" y1="242.30" x2="515.60" y2="242.30" stroke="#111" stroke-width="1.2"/>
<line x1="515.60" y1="241.70" x2="515.60" y2="308.60" stroke="#111" stroke-width="1.2"/>
<line x1="462.80" y1="316.00" x2="516.20" y2="316.00" stroke="#111" stroke-width="1.2"/>
<line x1="516.20" y1="315.40" x2="516.20" y2="384.60" stroke="#111" stroke-width="1.2"/>
<line x1="458.60" y1="256.50" x2="463.60" y2="256.50" stroke="#111" stroke-width="1.2"/>
<text transform="translate(469.00,263.30) scale(1,1.04)" font-size="10" text-anchor="start" font-weight="normal" >25</text>
<line x1="458.60" y1="285.40" x2="463.60" y2="285.40" stroke="#111" stroke-width="1.2"/>
<text transform="translate(469.00,289.60) scale(1,1.04)" font-size="10" text-anchor="start" font-weight="normal" >16</text>
<line x1="458.60" y1="307.40" x2="463.60" y2="307.40" stroke="#111" stroke-width="1.2"/>
<text transform="translate(469.00,311.20) scale(1,1.04)" font-size="10" text-anchor="start" font-weight="normal" >6</text>
<line x1="458.60" y1="321.10" x2="463.60" y2="321.10" stroke="#111" stroke-width="1.2"/>
<text transform="translate(469.00,327.30) scale(1,1.04)" font-size="10" text-anchor="start" font-weight="normal" >47</text>
<line x1="458.60" y1="356.70" x2="463.60" y2="356.70" stroke="#111" stroke-width="1.2"/>
<text transform="translate(469.00,362.00) scale(1,1.04)" font-size="10" text-anchor="start" font-weight="normal" >32</text>
<text transform="translate(483.00,253.60) scale(1,1.04)" font-size="9.9" text-anchor="start" font-weight="normal" >WB:</text>
<text transform="translate(483.00,267.00) scale(1,1.04)" font-size="9.9" text-anchor="start" font-weight="normal" >anti-</text>
<text transform="translate(483.00,278.60) scale(1,1.04)" font-size="9.9" text-anchor="start" font-weight="normal" >BAFF</text>
<text transform="translate(482.60,327.90) scale(1,1.04)" font-size="9.9" text-anchor="start" font-weight="normal" >WB:</text>
<text transform="translate(482.60,340.60) scale(1,1.04)" font-size="9.9" text-anchor="start" font-weight="normal" >anti-Fc</text>
<text transform="translate(0.40,416.60) scale(1,1.03)" font-size="16.5" text-anchor="start" font-weight="bold" >D</text>
<text transform="translate(16.20,418.80) scale(1,1.04)" font-size="10.0" text-anchor="start" font-weight="normal" >ELISA: Flag BAFF on BCMA-Fc</text>
<text transform="translate(190.90,418.50) scale(1,1.04)" font-size="10.25" text-anchor="start" font-weight="normal" >Flag-BAFF on TACI-Fc</text>
<text transform="translate(328.20,418.70) scale(1,1.04)" font-size="10.1" text-anchor="start" font-weight="normal" >Flag BAFF on BAFFR-Fc</text>
<rect x="38.60" y="423.50" width="127.70" height="126.90" fill="none" stroke="#111" stroke-width="1.3"/>
<rect x="173.00" y="423.60" width="127.00" height="127.20" fill="none" stroke="#111" stroke-width="1.3"/>
<rect x="312.40" y="423.70" width="127.10" height="127.10" fill="none" stroke="#111" stroke-width="1.3"/>
<line x1="36.20" y1="465.40" x2="38.60" y2="465.40" stroke="#111" stroke-width="1.0"/>
<line x1="310.30" y1="465.40" x2="312.40" y2="465.40" stroke="#111" stroke-width="1.0"/>
<line x1="36.20" y1="507.80" x2="38.60" y2="507.80" stroke="#111" stroke-width="1.0"/>
<line x1="310.30" y1="507.80" x2="312.40" y2="507.80" stroke="#111" stroke-width="1.0"/>
<text transform="translate(30.90,429.80) scale(1,1.0)" font-size="10.1" text-anchor="end" font-weight="normal" >1.5</text>
<text transform="translate(31.30,471.50) scale(1,1.0)" font-size="10.1" text-anchor="end" font-weight="normal" >1.0</text>
<text transform="translate(31.60,513.20) scale(1,1.0)" font-size="10.1" text-anchor="end" font-weight="normal" >0.5</text>
<text transform="translate(33.00,555.30) scale(1,1.0)" font-size="10.1" text-anchor="end" font-weight="normal" >0</text>
<line x1="36.00" y1="550.40" x2="38.60" y2="550.40" stroke="#111" stroke-width="1.3"/>
<line x1="36.80" y1="423.50" x2="38.60" y2="423.50" stroke="#111" stroke-width="1.0"/>
<text transform="translate(11.00,516.10) rotate(-90) scale(1.0,1)" font-size="10.0" text-anchor="start">OD 492 nm</text>
<line x1="54.50" y1="550.40" x2="54.50" y2="553.20" stroke="#111" stroke-width="1.0"/>
<text transform="translate(58.50,557.0) rotate(-90) scale(0.92,1)" font-size="9.6" text-anchor="end">10<tspan font-size="6.3" dx="0.9" dy="-3.3">-1</tspan></text>
<line x1="70.25" y1="550.40" x2="70.25" y2="553.20" stroke="#111" stroke-width="1.0"/>
<text transform="translate(74.25,557.0) rotate(-90) scale(0.92,1)" font-size="9.6" text-anchor="end">10<tspan font-size="6.3" dx="0.9" dy="-3.3">0</tspan></text>
<line x1="86.00" y1="550.40" x2="86.00" y2="553.20" stroke="#111" stroke-width="1.0"/>
<text transform="translate(90.00,557.0) rotate(-90) scale(0.92,1)" font-size="9.6" text-anchor="end">10<tspan font-size="6.3" dx="0.9" dy="-3.3">1</tspan></text>
<line x1="101.75" y1="550.40" x2="101.75" y2="553.20" stroke="#111" stroke-width="1.0"/>
<text transform="translate(105.75,557.0) rotate(-90) scale(0.92,1)" font-size="9.6" text-anchor="end">10<tspan font-size="6.3" dx="0.9" dy="-3.3">2</tspan></text>
<line x1="117.50" y1="550.40" x2="117.50" y2="553.20" stroke="#111" stroke-width="1.0"/>
<text transform="translate(121.50,557.0) rotate(-90) scale(0.92,1)" font-size="9.6" text-anchor="end">10<tspan font-size="6.3" dx="0.9" dy="-3.3">3</tspan></text>
<line x1="133.25" y1="550.40" x2="133.25" y2="553.20" stroke="#111" stroke-width="1.0"/>
<text transform="translate(137.25,557.0) rotate(-90) scale(0.92,1)" font-size="9.6" text-anchor="end">10<tspan font-size="6.3" dx="0.9" dy="-3.3">4</tspan></text>
<line x1="149.00" y1="550.40" x2="149.00" y2="553.20" stroke="#111" stroke-width="1.0"/>
<text transform="translate(153.00,557.0) rotate(-90) scale(0.92,1)" font-size="9.6" text-anchor="end">10<tspan font-size="6.3" dx="0.9" dy="-3.3">5</tspan></text>
<line x1="188.70" y1="550.80" x2="188.70" y2="553.60" stroke="#111" stroke-width="1.0"/>
<text transform="translate(192.70,557.0) rotate(-90) scale(0.92,1)" font-size="9.6" text-anchor="end">10<tspan font-size="6.3" dx="0.9" dy="-3.3">-1</tspan></text>
<line x1="204.40" y1="550.80" x2="204.40" y2="553.60" stroke="#111" stroke-width="1.0"/>
<text transform="translate(208.40,557.0) rotate(-90) scale(0.92,1)" font-size="9.6" text-anchor="end">10<tspan font-size="6.3" dx="0.9" dy="-3.3">0</tspan></text>
<line x1="220.10" y1="550.80" x2="220.10" y2="553.60" stroke="#111" stroke-width="1.0"/>
<text transform="translate(224.10,557.0) rotate(-90) scale(0.92,1)" font-size="9.6" text-anchor="end">10<tspan font-size="6.3" dx="0.9" dy="-3.3">1</tspan></text>
<line x1="235.80" y1="550.80" x2="235.80" y2="553.60" stroke="#111" stroke-width="1.0"/>
<text transform="translate(239.80,557.0) rotate(-90) scale(0.92,1)" font-size="9.6" text-anchor="end">10<tspan font-size="6.3" dx="0.9" dy="-3.3">2</tspan></text>
<line x1="251.50" y1="550.80" x2="251.50" y2="553.60" stroke="#111" stroke-width="1.0"/>
<text transform="translate(255.50,557.0) rotate(-90) scale(0.92,1)" font-size="9.6" text-anchor="end">10<tspan font-size="6.3" dx="0.9" dy="-3.3">3</tspan></text>
<line x1="267.20" y1="550.80" x2="267.20" y2="553.60" stroke="#111" stroke-width="1.0"/>
<text transform="translate(271.20,557.0) rotate(-90) scale(0.92,1)" font-size="9.6" text-anchor="end">10<tspan font-size="6.3" dx="0.9" dy="-3.3">4</tspan></text>
<line x1="282.90" y1="550.80" x2="282.90" y2="553.60" stroke="#111" stroke-width="1.0"/>
<text transform="translate(286.90,557.0) rotate(-90) scale(0.92,1)" font-size="9.6" text-anchor="end">10<tspan font-size="6.3" dx="0.9" dy="-3.3">5</tspan></text>
<line x1="327.90" y1="550.80" x2="327.90" y2="553.60" stroke="#111" stroke-width="1.0"/>
<text transform="translate(331.90,557.0) rotate(-90) scale(0.92,1)" font-size="9.6" text-anchor="end">10<tspan font-size="6.3" dx="0.9" dy="-3.3">-1</tspan></text>
<line x1="343.83" y1="550.80" x2="343.83" y2="553.60" stroke="#111" stroke-width="1.0"/>
<text transform="translate(347.83,557.0) rotate(-90) scale(0.92,1)" font-size="9.6" text-anchor="end">10<tspan font-size="6.3" dx="0.9" dy="-3.3">0</tspan></text>
<line x1="359.76" y1="550.80" x2="359.76" y2="553.60" stroke="#111" stroke-width="1.0"/>
<text transform="translate(363.76,557.0) rotate(-90) scale(0.92,1)" font-size="9.6" text-anchor="end">10<tspan font-size="6.3" dx="0.9" dy="-3.3">1</tspan></text>
<line x1="375.69" y1="550.80" x2="375.69" y2="553.60" stroke="#111" stroke-width="1.0"/>
<text transform="translate(379.69,557.0) rotate(-90) scale(0.92,1)" font-size="9.6" text-anchor="end">10<tspan font-size="6.3" dx="0.9" dy="-3.3">2</tspan></text>
<line x1="391.62" y1="550.80" x2="391.62" y2="553.60" stroke="#111" stroke-width="1.0"/>
<text transform="translate(395.62,557.0) rotate(-90) scale(0.92,1)" font-size="9.6" text-anchor="end">10<tspan font-size="6.3" dx="0.9" dy="-3.3">3</tspan></text>
<line x1="407.55" y1="550.80" x2="407.55" y2="553.60" stroke="#111" stroke-width="1.0"/>
<text transform="translate(411.55,557.0) rotate(-90) scale(0.92,1)" font-size="9.6" text-anchor="end">10<tspan font-size="6.3" dx="0.9" dy="-3.3">4</tspan></text>
<line x1="423.48" y1="550.80" x2="423.48" y2="553.60" stroke="#111" stroke-width="1.0"/>
<text transform="translate(427.48,557.0) rotate(-90) scale(0.92,1)" font-size="9.6" text-anchor="end">10<tspan font-size="6.3" dx="0.9" dy="-3.3">5</tspan></text>
<text transform="translate(50.60,586.60) scale(1,1.04)" font-size="10.2" text-anchor="start" font-weight="normal" >BAFF competitor [ng/mL]</text>
<text transform="translate(184.20,586.60) scale(1,1.04)" font-size="10.2" text-anchor="start" font-weight="normal" >BAFF competitor [ng/mL]</text>
<text transform="translate(324.20,586.60) scale(1,1.04)" font-size="10.2" text-anchor="start" font-weight="normal" >BAFF competitor [ng/mL]</text>
<polyline points="44.00,461.20 58.90,459.20 68.49,459.20 78.08,451.80 87.67,456.50 97.26,461.30 106.85,481.40 116.44,524.80 126.03,541.50 135.62,542.50 145.21,543.40 154.80,544.00" fill="none" stroke="#111" stroke-width="1.0"/>
<rect x="41.00" y="458.20" width="6.00" height="6.00" fill="#111"/>
<rect x="55.90" y="456.20" width="6.00" height="6.00" fill="#111"/>
<rect x="65.49" y="456.20" width="6.00" height="6.00" fill="#111"/>
<rect x="75.08" y="448.80" width="6.00" height="6.00" fill="#111"/>
<rect x="84.67" y="453.50" width="6.00" height="6.00" fill="#111"/>
<rect x="94.26" y="458.30" width="6.00" height="6.00" fill="#111"/>
<rect x="103.85" y="478.40" width="6.00" height="6.00" fill="#111"/>
<rect x="113.44" y="521.80" width="6.00" height="6.00" fill="#111"/>
<rect x="123.03" y="538.50" width="6.00" height="6.00" fill="#111"/>
<rect x="132.62" y="539.50" width="6.00" height="6.00" fill="#111"/>
<rect x="142.21" y="540.40" width="6.00" height="6.00" fill="#111"/>
<rect x="151.80" y="541.00" width="6.00" height="6.00" fill="#111"/>
<polyline points="44.00,447.40 58.90,448.70 68.49,449.50 78.08,447.40 87.67,450.90 97.26,452.60 106.85,460.50 116.44,488.10 126.03,500.50 135.62,509.90 145.21,515.40 154.80,512.70" fill="none" stroke="#111" stroke-width="1.0"/>
<circle cx="44.00" cy="447.40" r="3.10" fill="#111"/>
<circle cx="58.90" cy="448.70" r="3.10" fill="#111"/>
<circle cx="78.08" cy="447.40" r="3.10" fill="#111"/>
<circle cx="87.67" cy="450.90" r="3.10" fill="#111"/>
<circle cx="97.26" cy="452.60" r="3.10" fill="#111"/>
<circle cx="106.85" cy="460.50" r="3.10" fill="#111"/>
<circle cx="116.44" cy="488.10" r="3.10" fill="#111"/>
<circle cx="126.03" cy="500.50" r="3.10" fill="#111"/>
<circle cx="135.62" cy="509.90" r="3.10" fill="#111"/>
<circle cx="145.21" cy="515.40" r="3.10" fill="#111"/>
<circle cx="154.80" cy="512.70" r="3.10" fill="#111"/>
<polyline points="44.00,456.50 58.90,455.90 68.49,459.20 78.08,463.30 87.67,461.60 97.26,475.00 106.85,495.00 116.44,522.00 126.03,536.50 135.62,542.50 145.21,543.40 154.80,544.00" fill="none" stroke="#111" stroke-width="1.0"/>
<rect x="41.62" y="454.12" width="4.75" height="4.75" fill="#fff" stroke="#111" stroke-width="1.25"/>
<rect x="56.52" y="453.52" width="4.75" height="4.75" fill="#fff" stroke="#111" stroke-width="1.25"/>
<rect x="66.11" y="456.82" width="4.75" height="4.75" fill="#fff" stroke="#111" stroke-width="1.25"/>
<rect x="75.70" y="460.93" width="4.75" height="4.75" fill="#fff" stroke="#111" stroke-width="1.25"/>
<rect x="85.30" y="459.23" width="4.75" height="4.75" fill="#fff" stroke="#111" stroke-width="1.25"/>
<rect x="94.88" y="472.62" width="4.75" height="4.75" fill="#fff" stroke="#111" stroke-width="1.25"/>
<rect x="104.47" y="492.62" width="4.75" height="4.75" fill="#fff" stroke="#111" stroke-width="1.25"/>
<rect x="114.06" y="519.62" width="4.75" height="4.75" fill="#fff" stroke="#111" stroke-width="1.25"/>
<rect x="123.66" y="534.12" width="4.75" height="4.75" fill="#fff" stroke="#111" stroke-width="1.25"/>
<rect x="133.25" y="540.12" width="4.75" height="4.75" fill="#fff" stroke="#111" stroke-width="1.25"/>
<rect x="142.84" y="541.02" width="4.75" height="4.75" fill="#fff" stroke="#111" stroke-width="1.25"/>
<rect x="152.43" y="541.62" width="4.75" height="4.75" fill="#fff" stroke="#111" stroke-width="1.25"/>
<polyline points="44.00,452.50 58.90,463.50 68.49,451.80 78.08,456.50 87.67,458.00 97.26,466.70 106.85,484.30 116.44,512.70 126.03,531.30 135.62,539.70 145.21,542.50 154.80,543.50" fill="none" stroke="#111" stroke-width="1.0"/>
<circle cx="44.00" cy="452.50" r="2.48" fill="#fff" stroke="#111" stroke-width="1.25"/>
<circle cx="58.90" cy="463.50" r="2.48" fill="#fff" stroke="#111" stroke-width="1.25"/>
<circle cx="68.49" cy="451.80" r="2.48" fill="#fff" stroke="#111" stroke-width="1.25"/>
<circle cx="78.08" cy="456.50" r="2.48" fill="#fff" stroke="#111" stroke-width="1.25"/>
<circle cx="87.67" cy="458.00" r="2.48" fill="#fff" stroke="#111" stroke-width="1.25"/>
<circle cx="97.26" cy="466.70" r="2.48" fill="#fff" stroke="#111" stroke-width="1.25"/>
<circle cx="106.85" cy="484.30" r="2.48" fill="#fff" stroke="#111" stroke-width="1.25"/>
<circle cx="116.44" cy="512.70" r="2.48" fill="#fff" stroke="#111" stroke-width="1.25"/>
<circle cx="126.03" cy="531.30" r="2.48" fill="#fff" stroke="#111" stroke-width="1.25"/>
<circle cx="135.62" cy="539.70" r="2.48" fill="#fff" stroke="#111" stroke-width="1.25"/>
<circle cx="145.21" cy="542.50" r="2.48" fill="#fff" stroke="#111" stroke-width="1.25"/>
<circle cx="154.80" cy="543.50" r="2.48" fill="#fff" stroke="#111" stroke-width="1.25"/>
<polyline points="177.80,428.00 193.40,434.30 202.95,439.50 212.50,436.00 222.05,444.70 231.60,455.00 241.15,468.80 250.70,499.20 260.25,522.50 269.80,534.70 279.35,542.00 288.90,543.30" fill="none" stroke="#111" stroke-width="1.0"/>
<rect x="174.80" y="425.00" width="6.00" height="6.00" fill="#111"/>
<rect x="190.40" y="431.30" width="6.00" height="6.00" fill="#111"/>
<rect x="199.95" y="436.50" width="6.00" height="6.00" fill="#111"/>
<rect x="209.50" y="433.00" width="6.00" height="6.00" fill="#111"/>
<rect x="219.05" y="441.70" width="6.00" height="6.00" fill="#111"/>
<rect x="228.60" y="452.00" width="6.00" height="6.00" fill="#111"/>
<rect x="238.15" y="465.80" width="6.00" height="6.00" fill="#111"/>
<rect x="247.70" y="496.20" width="6.00" height="6.00" fill="#111"/>
<rect x="257.25" y="519.50" width="6.00" height="6.00" fill="#111"/>
<rect x="266.80" y="531.70" width="6.00" height="6.00" fill="#111"/>
<rect x="276.35" y="539.00" width="6.00" height="6.00" fill="#111"/>
<rect x="285.90" y="540.30" width="6.00" height="6.00" fill="#111"/>
<polyline points="177.80,427.80 193.40,426.50 202.95,431.70 212.50,432.50 222.05,435.10 231.60,442.80 241.15,460.20 250.70,482.30 260.25,503.60 269.80,517.40 279.35,520.00 288.90,515.50" fill="none" stroke="#111" stroke-width="1.0"/>
<circle cx="177.80" cy="427.80" r="3.10" fill="#111"/>
<circle cx="193.40" cy="426.50" r="3.10" fill="#111"/>
<circle cx="202.95" cy="431.70" r="3.10" fill="#111"/>
<circle cx="212.50" cy="432.50" r="3.10" fill="#111"/>
<circle cx="222.05" cy="435.10" r="3.10" fill="#111"/>
<circle cx="231.60" cy="442.80" r="3.10" fill="#111"/>
<circle cx="241.15" cy="460.20" r="3.10" fill="#111"/>
<circle cx="250.70" cy="482.30" r="3.10" fill="#111"/>
<circle cx="260.25" cy="503.60" r="3.10" fill="#111"/>
<circle cx="269.80" cy="517.40" r="3.10" fill="#111"/>
<circle cx="279.35" cy="520.00" r="3.10" fill="#111"/>
<circle cx="288.90" cy="515.50" r="3.10" fill="#111"/>
<polyline points="177.80,430.00 193.40,430.00 202.95,433.00 212.50,438.70 222.05,445.00 231.60,462.10 241.15,477.60 250.70,504.40 260.25,529.00 269.80,539.00 279.35,542.00 288.90,543.30" fill="none" stroke="#111" stroke-width="1.0"/>
<circle cx="177.80" cy="430.00" r="2.48" fill="#fff" stroke="#111" stroke-width="1.25"/>
<circle cx="193.40" cy="430.00" r="2.48" fill="#fff" stroke="#111" stroke-width="1.25"/>
<circle cx="202.95" cy="433.00" r="2.48" fill="#fff" stroke="#111" stroke-width="1.25"/>
<circle cx="212.50" cy="438.70" r="2.48" fill="#fff" stroke="#111" stroke-width="1.25"/>
<circle cx="222.05" cy="445.00" r="2.48" fill="#fff" stroke="#111" stroke-width="1.25"/>
<circle cx="231.60" cy="462.10" r="2.48" fill="#fff" stroke="#111" stroke-width="1.25"/>
<circle cx="241.15" cy="477.60" r="2.48" fill="#fff" stroke="#111" stroke-width="1.25"/>
<circle cx="250.70" cy="504.40" r="2.48" fill="#fff" stroke="#111" stroke-width="1.25"/>
<circle cx="260.25" cy="529.00" r="2.48" fill="#fff" stroke="#111" stroke-width="1.25"/>
<circle cx="269.80" cy="539.00" r="2.48" fill="#fff" stroke="#111" stroke-width="1.25"/>
<circle cx="279.35" cy="542.00" r="2.48" fill="#fff" stroke="#111" stroke-width="1.25"/>
<circle cx="288.90" cy="543.30" r="2.48" fill="#fff" stroke="#111" stroke-width="1.25"/>
<polyline points="177.80,429.90 193.40,430.90 202.95,434.30 212.50,436.10 222.05,444.70 231.60,456.30 241.15,482.30 250.70,516.10 260.25,532.90 269.80,540.70 279.35,542.00 288.90,543.30" fill="none" stroke="#111" stroke-width="1.0"/>
<rect x="175.43" y="427.52" width="4.75" height="4.75" fill="#fff" stroke="#111" stroke-width="1.25"/>
<rect x="191.03" y="428.52" width="4.75" height="4.75" fill="#fff" stroke="#111" stroke-width="1.25"/>
<rect x="200.58" y="431.93" width="4.75" height="4.75" fill="#fff" stroke="#111" stroke-width="1.25"/>
<rect x="210.12" y="433.73" width="4.75" height="4.75" fill="#fff" stroke="#111" stroke-width="1.25"/>
<rect x="219.68" y="442.32" width="4.75" height="4.75" fill="#fff" stroke="#111" stroke-width="1.25"/>
<rect x="229.23" y="453.93" width="4.75" height="4.75" fill="#fff" stroke="#111" stroke-width="1.25"/>
<rect x="238.78" y="479.93" width="4.75" height="4.75" fill="#fff" stroke="#111" stroke-width="1.25"/>
<rect x="248.33" y="513.73" width="4.75" height="4.75" fill="#fff" stroke="#111" stroke-width="1.25"/>
<rect x="257.88" y="530.52" width="4.75" height="4.75" fill="#fff" stroke="#111" stroke-width="1.25"/>
<rect x="267.43" y="538.33" width="4.75" height="4.75" fill="#fff" stroke="#111" stroke-width="1.25"/>
<rect x="276.98" y="539.62" width="4.75" height="4.75" fill="#fff" stroke="#111" stroke-width="1.25"/>
<rect x="286.52" y="540.92" width="4.75" height="4.75" fill="#fff" stroke="#111" stroke-width="1.25"/>
<polyline points="318.70,464.90 328.40,461.50 338.10,460.90 347.80,460.50 357.50,456.40 367.20,474.60 376.90,483.10 386.60,519.20 396.30,530.50 406.00,538.50 415.70,542.70 425.40,542.70" fill="none" stroke="#111" stroke-width="1.0"/>
<rect x="315.70" y="461.90" width="6.00" height="6.00" fill="#111"/>
<rect x="325.40" y="458.50" width="6.00" height="6.00" fill="#111"/>
<rect x="335.10" y="457.90" width="6.00" height="6.00" fill="#111"/>
<rect x="344.80" y="457.50" width="6.00" height="6.00" fill="#111"/>
<rect x="354.50" y="453.40" width="6.00" height="6.00" fill="#111"/>
<rect x="364.20" y="471.60" width="6.00" height="6.00" fill="#111"/>
<rect x="373.90" y="480.10" width="6.00" height="6.00" fill="#111"/>
<rect x="383.60" y="516.20" width="6.00" height="6.00" fill="#111"/>
<rect x="393.30" y="527.50" width="6.00" height="6.00" fill="#111"/>
<rect x="403.00" y="535.50" width="6.00" height="6.00" fill="#111"/>
<rect x="412.70" y="539.70" width="6.00" height="6.00" fill="#111"/>
<rect x="422.40" y="539.70" width="6.00" height="6.00" fill="#111"/>
<polyline points="318.70,460.00 328.40,456.20 338.10,453.20 347.80,454.60 357.50,456.00 367.20,461.50 376.90,468.90 386.60,486.20 396.30,498.20 406.00,509.50 415.70,519.70 425.40,518.50" fill="none" stroke="#111" stroke-width="1.0"/>
<circle cx="318.70" cy="460.00" r="3.10" fill="#111"/>
<circle cx="328.40" cy="456.20" r="3.10" fill="#111"/>
<circle cx="338.10" cy="453.20" r="3.10" fill="#111"/>
<circle cx="357.50" cy="456.00" r="3.10" fill="#111"/>
<circle cx="367.20" cy="461.50" r="3.10" fill="#111"/>
<circle cx="376.90" cy="468.90" r="3.10" fill="#111"/>
<circle cx="386.60" cy="486.20" r="3.10" fill="#111"/>
<circle cx="396.30" cy="498.20" r="3.10" fill="#111"/>
<circle cx="406.00" cy="509.50" r="3.10" fill="#111"/>
<circle cx="415.70" cy="519.70" r="3.10" fill="#111"/>
<circle cx="425.40" cy="518.50" r="3.10" fill="#111"/>
<polyline points="318.70,456.40 328.40,462.00 338.10,460.00 347.80,468.50 357.50,471.60 367.20,485.40 376.90,503.00 386.60,525.40 396.30,538.50 406.00,543.10 415.70,543.00 425.40,542.50" fill="none" stroke="#111" stroke-width="1.0"/>
<circle cx="318.70" cy="456.40" r="2.48" fill="#fff" stroke="#111" stroke-width="1.25"/>
<circle cx="328.40" cy="462.00" r="2.48" fill="#fff" stroke="#111" stroke-width="1.25"/>
<circle cx="338.10" cy="460.00" r="2.48" fill="#fff" stroke="#111" stroke-width="1.25"/>
<circle cx="347.80" cy="468.50" r="2.48" fill="#fff" stroke="#111" stroke-width="1.25"/>
<circle cx="357.50" cy="471.60" r="2.48" fill="#fff" stroke="#111" stroke-width="1.25"/>
<circle cx="367.20" cy="485.40" r="2.48" fill="#fff" stroke="#111" stroke-width="1.25"/>
<circle cx="376.90" cy="503.00" r="2.48" fill="#fff" stroke="#111" stroke-width="1.25"/>
<circle cx="386.60" cy="525.40" r="2.48" fill="#fff" stroke="#111" stroke-width="1.25"/>
<circle cx="396.30" cy="538.50" r="2.48" fill="#fff" stroke="#111" stroke-width="1.25"/>
<circle cx="406.00" cy="543.10" r="2.48" fill="#fff" stroke="#111" stroke-width="1.25"/>
<circle cx="415.70" cy="543.00" r="2.48" fill="#fff" stroke="#111" stroke-width="1.25"/>
<circle cx="425.40" cy="542.50" r="2.48" fill="#fff" stroke="#111" stroke-width="1.25"/>
<polyline points="318.70,464.90 328.40,461.50 338.10,460.90 347.80,460.50 357.50,463.10 367.20,480.80 376.90,504.60 386.60,529.20 396.30,536.20 406.00,539.20 415.70,543.10 425.40,542.30" fill="none" stroke="#111" stroke-width="1.0"/>
<rect x="316.32" y="462.52" width="4.75" height="4.75" fill="#fff" stroke="#111" stroke-width="1.25"/>
<rect x="326.02" y="459.12" width="4.75" height="4.75" fill="#fff" stroke="#111" stroke-width="1.25"/>
<rect x="335.72" y="458.52" width="4.75" height="4.75" fill="#fff" stroke="#111" stroke-width="1.25"/>
<rect x="345.43" y="458.12" width="4.75" height="4.75" fill="#fff" stroke="#111" stroke-width="1.25"/>
<rect x="355.12" y="460.73" width="4.75" height="4.75" fill="#fff" stroke="#111" stroke-width="1.25"/>
<rect x="364.82" y="478.43" width="4.75" height="4.75" fill="#fff" stroke="#111" stroke-width="1.25"/>
<rect x="374.52" y="502.23" width="4.75" height="4.75" fill="#fff" stroke="#111" stroke-width="1.25"/>
<rect x="384.22" y="526.83" width="4.75" height="4.75" fill="#fff" stroke="#111" stroke-width="1.25"/>
<rect x="393.92" y="533.83" width="4.75" height="4.75" fill="#fff" stroke="#111" stroke-width="1.25"/>
<rect x="403.62" y="536.83" width="4.75" height="4.75" fill="#fff" stroke="#111" stroke-width="1.25"/>
<rect x="413.32" y="540.73" width="4.75" height="4.75" fill="#fff" stroke="#111" stroke-width="1.25"/>
<rect x="423.02" y="539.92" width="4.75" height="4.75" fill="#fff" stroke="#111" stroke-width="1.25"/>
<rect x="446.75" y="428.65" width="5.10" height="5.10" fill="#fff" stroke="#111" stroke-width="1.2"/>
<text transform="translate(459.60,435.80) scale(1,1.04)" font-size="10.1" text-anchor="start" font-weight="normal" >Myc BAFF</text>
<text transform="translate(459.60,447.70) scale(1,1.04)" font-size="10.1" text-anchor="start" font-weight="normal" >3-mer</text>
<circle cx="449.30" cy="464.30" r="2.55" fill="#fff" stroke="#111" stroke-width="1.2"/>
<text transform="translate(459.60,468.90) scale(1,1.04)" font-size="10.1" text-anchor="start" font-weight="normal" >BAFF H218A</text>
<text transform="translate(459.60,480.80) scale(1,1.04)" font-size="10.1" text-anchor="start" font-weight="normal" >3-mer</text>
<circle cx="449.30" cy="497.50" r="3.15" fill="#111"/>
<text transform="translate(459.60,502.10) scale(1,1.04)" font-size="10.1" text-anchor="start" font-weight="normal" >BAFF N242Q</text>
<text transform="translate(459.60,514.00) scale(1,1.04)" font-size="10.1" text-anchor="start" font-weight="normal" >60-mer</text>
<rect x="446.15" y="528.05" width="6.30" height="6.30" fill="#111"/>
<text transform="translate(459.60,535.80) scale(1,1.04)" font-size="10.1" text-anchor="start" font-weight="normal" >BAFF A134</text>
<text transform="translate(459.60,547.70) scale(1,1.04)" font-size="10.1" text-anchor="start" font-weight="normal" >60-mer</text>
</svg>
</body></html>
